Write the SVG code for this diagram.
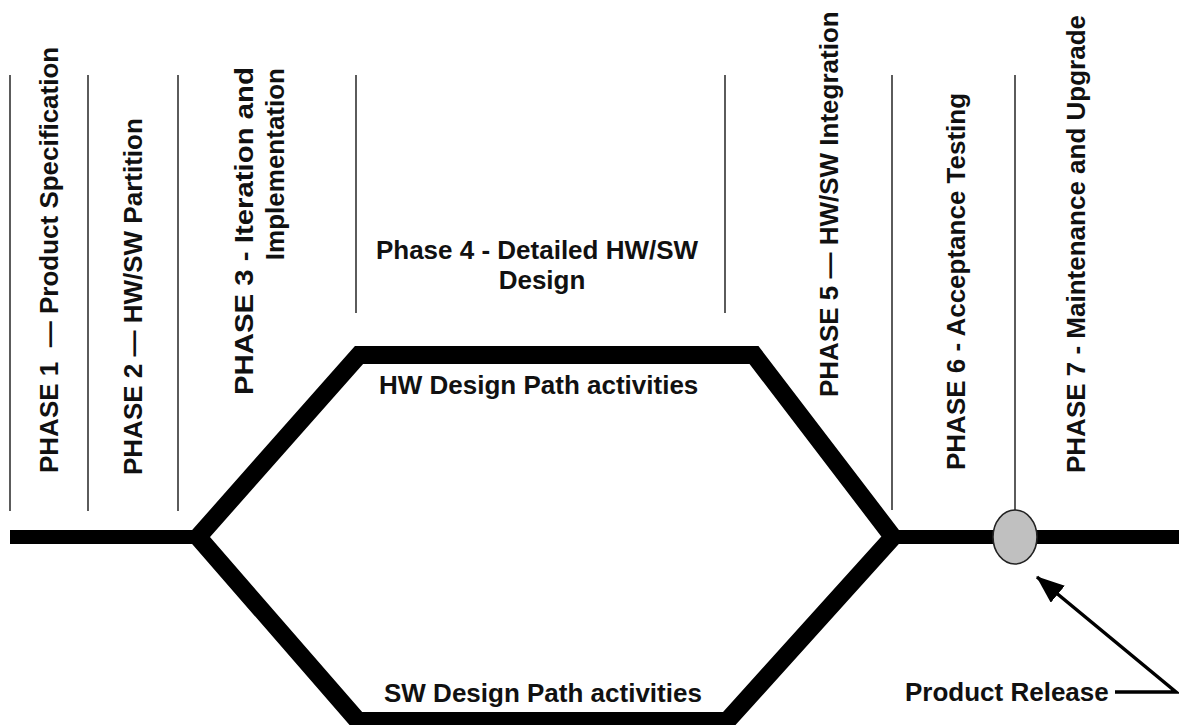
<svg xmlns="http://www.w3.org/2000/svg" width="1179" height="725" viewBox="0 0 1179 725">
<style>
.lbl{font-family:"Liberation Sans",Arial,Helvetica,sans-serif;font-weight:bold;font-size:26px;fill:#111}
.div{stroke:#333;stroke-width:1.6;fill:none}
.thick{stroke:#000;fill:none}
.conn{stroke:#000;stroke-width:3.5;fill:none}
</style>
<defs>
<marker id="ah" viewBox="0 0 28 22" refX="27" refY="11" markerWidth="28" markerHeight="22" markerUnits="userSpaceOnUse" orient="auto">
<path d="M0,0 L28,11 L0,22 Z" fill="#000"/>
</marker>
</defs>
<rect width="1179" height="725" fill="#fff"/>
<g id="dividers">
<line class="div" x1="10" y1="75" x2="10" y2="511"/>
<line class="div" x1="88" y1="75" x2="88" y2="511"/>
<line class="div" x1="178" y1="75" x2="178" y2="511"/>
<line class="div" x1="356" y1="75" x2="356" y2="313"/>
<line class="div" x1="725" y1="75" x2="725" y2="313"/>
<line class="div" x1="892" y1="75" x2="892" y2="510"/>
<line class="div" x1="1015" y1="75" x2="1015" y2="511"/>
</g>
<g id="design-path">
<path class="thick" stroke-width="14" d="M10,537 H200 M891,537 H1179"/>
<path class="thick" stroke-width="18" stroke-linejoin="miter" d="M198,537 L359,355 L754,355 L893,537 L727,721 L358,721 Z"/>
</g>
<g id="phase1"><text class="lbl" transform="translate(58,473) rotate(-90)">PHASE 1&#160; — Product Specification</text></g>
<g id="phase2"><text class="lbl" transform="translate(142,475) rotate(-90)">PHASE 2 — HW/SW Partition</text></g>
<g id="phase3">
<text class="lbl" transform="translate(253,67) rotate(-90)" text-anchor="end" textLength="328" lengthAdjust="spacingAndGlyphs">PHASE 3 - Iteration and</text>
<text class="lbl" transform="translate(284,68) rotate(-90)" text-anchor="end">Implementation</text>
</g>
<g id="phase4">
<text class="lbl" x="537" y="259" text-anchor="middle">Phase 4 - Detailed HW/SW</text>
<text class="lbl" x="542" y="289" text-anchor="middle">Design</text>
</g>
<g id="phase5"><text class="lbl" transform="translate(838,397) rotate(-90)">PHASE 5 — HW/SW Integration</text></g>
<g id="phase6"><text class="lbl" transform="translate(965,470) rotate(-90)">PHASE 6 - Acceptance Testing</text></g>
<g id="phase7"><text class="lbl" transform="translate(1085,473) rotate(-90)">PHASE 7 - Maintenance and Upgrade</text></g>
<g id="hw-path"><text class="lbl" x="379" y="394">HW Design Path activities</text></g>
<g id="sw-path"><text class="lbl" x="384" y="702">SW Design Path activities</text></g>
<g id="release">
<ellipse cx="1015" cy="537" rx="22" ry="27" fill="#c0c0c0" stroke="#222" stroke-width="1.6"/>
</g>
<g id="release-label"><text class="lbl" x="905" y="701">Product Release</text></g>
<g id="connectors">
<polyline class="conn" points="1115,692 1176,692 1037,577" marker-end="url(#ah)"/>
</g>
</svg>
